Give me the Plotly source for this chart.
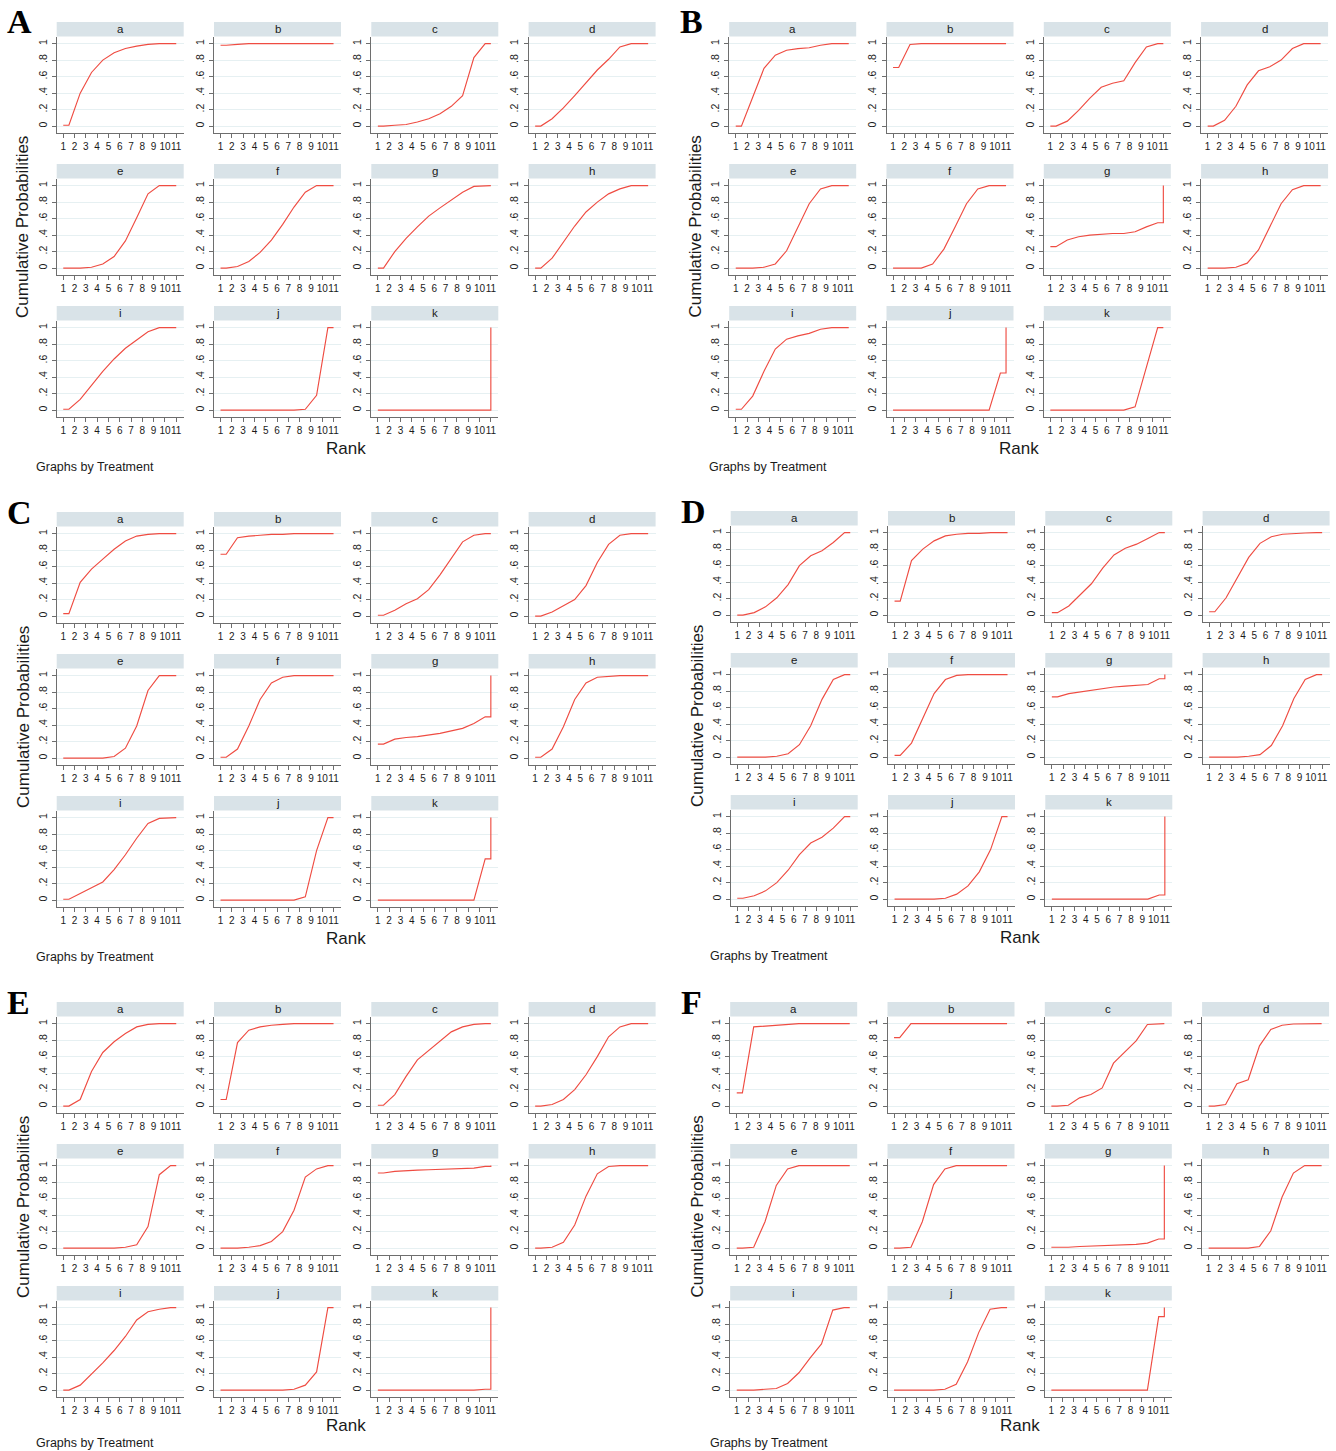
import plotly.graph_objects as go

# ---------------- data ----------------
RANKS = list(range(1, 12))
TREATMENTS = ["a", "b", "c", "d", "e", "f", "g", "h", "i", "j", "k"]
PANEL_LETTERS = ["A", "B", "C", "D", "E", "F"]
Y_TICKS = [0, 0.2, 0.4, 0.6, 0.8, 1]
Y_TICK_TEXT = ["0", ".2", ".4", ".6", ".8", "1"]

# cumulative probability of rank <= r (r = 1..11), one row per treatment a..k
cum_A = [
    [0.01, 0.40, 0.65, 0.80, 0.89, 0.94, 0.97, 0.99, 1.0, 1.0, 1.0],
    [0.98, 0.99, 1.0, 1.0, 1.0, 1.0, 1.0, 1.0, 1.0, 1.0, 1.0],
    [0.0, 0.01, 0.02, 0.05, 0.09, 0.15, 0.24, 0.37, 0.83, 1.0, 1.0],
    [0.0, 0.09, 0.22, 0.37, 0.53, 0.68, 0.81, 0.96, 1.0, 1.0, 1.0],
    [0.0, 0.0, 0.01, 0.05, 0.14, 0.33, 0.61, 0.90, 1.0, 1.0, 1.0],
    [0.0, 0.02, 0.08, 0.19, 0.34, 0.53, 0.74, 0.92, 1.0, 1.0, 1.0],
    [0.0, 0.20, 0.36, 0.50, 0.63, 0.73, 0.82, 0.92, 0.99, 1.0, 1.0],
    [0.0, 0.12, 0.32, 0.51, 0.68, 0.80, 0.90, 0.96, 1.0, 1.0, 1.0],
    [0.01, 0.13, 0.30, 0.47, 0.62, 0.75, 0.85, 0.95, 1.0, 1.0, 1.0],
    [0.0, 0.0, 0.0, 0.0, 0.0, 0.0, 0.0, 0.01, 0.18, 1.0, 1.0],
    [0.0, 0.0, 0.0, 0.0, 0.0, 0.0, 0.0, 0.0, 0.0, 0.0, 1.0],
]
cum_B = [
    [0.0, 0.35, 0.70, 0.86, 0.92, 0.94, 0.95, 0.98, 1.0, 1.0, 1.0],
    [0.71, 0.99, 1.0, 1.0, 1.0, 1.0, 1.0, 1.0, 1.0, 1.0, 1.0],
    [0.0, 0.06, 0.19, 0.34, 0.47, 0.52, 0.55, 0.77, 0.96, 1.0, 1.0],
    [0.0, 0.07, 0.24, 0.50, 0.67, 0.72, 0.80, 0.94, 1.0, 1.0, 1.0],
    [0.0, 0.0, 0.01, 0.05, 0.21, 0.49, 0.78, 0.96, 1.0, 1.0, 1.0],
    [0.0, 0.0, 0.0, 0.05, 0.23, 0.50, 0.78, 0.96, 1.0, 1.0, 1.0],
    [0.26, 0.34, 0.38, 0.40, 0.41, 0.42, 0.42, 0.44, 0.50, 0.55, 1.0],
    [0.0, 0.0, 0.01, 0.06, 0.22, 0.50, 0.78, 0.95, 1.0, 1.0, 1.0],
    [0.01, 0.17, 0.47, 0.74, 0.86, 0.90, 0.93, 0.98, 1.0, 1.0, 1.0],
    [0.0, 0.0, 0.0, 0.0, 0.0, 0.0, 0.0, 0.0, 0.0, 0.45, 1.0],
    [0.0, 0.0, 0.0, 0.0, 0.0, 0.0, 0.0, 0.04, 0.52, 1.0, 1.0],
]
cum_C = [
    [0.03, 0.41, 0.57, 0.69, 0.81, 0.91, 0.97, 0.99, 1.0, 1.0, 1.0],
    [0.75, 0.95, 0.97, 0.98, 0.99, 0.99, 1.0, 1.0, 1.0, 1.0, 1.0],
    [0.01, 0.07, 0.15, 0.21, 0.32, 0.50, 0.70, 0.90, 0.98, 1.0, 1.0],
    [0.0, 0.05, 0.12, 0.20, 0.37, 0.65, 0.87, 0.98, 1.0, 1.0, 1.0],
    [0.0, 0.0, 0.0, 0.0, 0.02, 0.12, 0.39, 0.82, 1.0, 1.0, 1.0],
    [0.01, 0.11, 0.39, 0.71, 0.91, 0.98, 1.0, 1.0, 1.0, 1.0, 1.0],
    [0.17, 0.23, 0.25, 0.26, 0.28, 0.30, 0.33, 0.36, 0.42, 0.50, 1.0],
    [0.01, 0.11, 0.38, 0.71, 0.91, 0.98, 0.99, 1.0, 1.0, 1.0, 1.0],
    [0.01, 0.08, 0.15, 0.22, 0.37, 0.55, 0.75, 0.93, 0.99, 1.0, 1.0],
    [0.0, 0.0, 0.0, 0.0, 0.0, 0.0, 0.0, 0.04, 0.60, 1.0, 1.0],
    [0.0, 0.0, 0.0, 0.0, 0.0, 0.0, 0.0, 0.0, 0.0, 0.50, 1.0],
]
cum_D = [
    [0.0, 0.03, 0.10, 0.21, 0.37, 0.60, 0.72, 0.78, 0.88, 1.0, 1.0],
    [0.17, 0.66, 0.80, 0.90, 0.96, 0.98, 0.99, 0.99, 1.0, 1.0, 1.0],
    [0.03, 0.11, 0.24, 0.38, 0.57, 0.73, 0.81, 0.86, 0.93, 1.0, 1.0],
    [0.04, 0.21, 0.46, 0.70, 0.87, 0.95, 0.98, 0.99, 0.995, 1.0, 1.0],
    [0.0, 0.0, 0.0, 0.01, 0.04, 0.15, 0.38, 0.70, 0.94, 1.0, 1.0],
    [0.02, 0.17, 0.48, 0.77, 0.94, 0.99, 1.0, 1.0, 1.0, 1.0, 1.0],
    [0.73, 0.77, 0.79, 0.81, 0.83, 0.85, 0.86, 0.87, 0.88, 0.95, 1.0],
    [0.0, 0.0, 0.0, 0.01, 0.03, 0.14, 0.38, 0.71, 0.94, 1.0, 1.0],
    [0.01, 0.04, 0.10, 0.20, 0.35, 0.54, 0.68, 0.75, 0.86, 1.0, 1.0],
    [0.0, 0.0, 0.0, 0.0, 0.01, 0.06, 0.16, 0.33, 0.60, 1.0, 1.0],
    [0.0, 0.0, 0.0, 0.0, 0.0, 0.0, 0.0, 0.0, 0.0, 0.05, 1.0],
]
cum_E = [
    [0.0, 0.08, 0.42, 0.65, 0.78, 0.88, 0.96, 0.99, 1.0, 1.0, 1.0],
    [0.08, 0.77, 0.92, 0.96, 0.98, 0.99, 1.0, 1.0, 1.0, 1.0, 1.0],
    [0.01, 0.14, 0.36, 0.56, 0.67, 0.79, 0.90, 0.96, 0.99, 1.0, 1.0],
    [0.0, 0.02, 0.08, 0.20, 0.38, 0.60, 0.84, 0.96, 1.0, 1.0, 1.0],
    [0.0, 0.0, 0.0, 0.0, 0.0, 0.01, 0.04, 0.26, 0.89, 1.0, 1.0],
    [0.0, 0.0, 0.01, 0.03, 0.08, 0.20, 0.46, 0.86, 0.96, 1.0, 1.0],
    [0.91, 0.93, 0.94, 0.945, 0.95, 0.955, 0.96, 0.965, 0.97, 0.99, 1.0],
    [0.0, 0.01, 0.07, 0.28, 0.63, 0.90, 0.99, 1.0, 1.0, 1.0, 1.0],
    [0.0, 0.06, 0.19, 0.33, 0.48, 0.65, 0.85, 0.95, 0.98, 1.0, 1.0],
    [0.0, 0.0, 0.0, 0.0, 0.0, 0.0, 0.01, 0.06, 0.22, 1.0, 1.0],
    [0.0, 0.0, 0.0, 0.0, 0.0, 0.0, 0.0, 0.0, 0.0, 0.01, 1.0],
]
cum_F = [
    [0.16, 0.96, 0.97, 0.98, 0.99, 1.0, 1.0, 1.0, 1.0, 1.0, 1.0],
    [0.83, 1.0, 1.0, 1.0, 1.0, 1.0, 1.0, 1.0, 1.0, 1.0, 1.0],
    [0.0, 0.01, 0.10, 0.14, 0.22, 0.52, 0.66, 0.79, 0.99, 1.0, 1.0],
    [0.0, 0.02, 0.27, 0.32, 0.73, 0.93, 0.98, 0.995, 1.0, 1.0, 1.0],
    [0.0, 0.01, 0.32, 0.76, 0.96, 1.0, 1.0, 1.0, 1.0, 1.0, 1.0],
    [0.0, 0.01, 0.32, 0.77, 0.96, 1.0, 1.0, 1.0, 1.0, 1.0, 1.0],
    [0.01, 0.01, 0.02, 0.025, 0.03, 0.035, 0.04, 0.045, 0.06, 0.11, 1.0],
    [0.0, 0.0, 0.0, 0.0, 0.02, 0.21, 0.62, 0.91, 1.0, 1.0, 1.0],
    [0.0, 0.0, 0.01, 0.02, 0.08, 0.21, 0.39, 0.56, 0.97, 1.0, 1.0],
    [0.0, 0.0, 0.0, 0.0, 0.01, 0.07, 0.34, 0.70, 0.98, 1.0, 1.0],
    [0.0, 0.0, 0.0, 0.0, 0.0, 0.0, 0.0, 0.0, 0.0, 0.89, 1.0],
]
PANEL_DATA = [cum_A, cum_B, cum_C, cum_D, cum_E, cum_F]

# ---------------- layout geometry (pixels) ----------------
W, H = 1336, 1451
PANEL_ORIGINS = [(0, 0), (672.5, 0), (0, 490), (674, 489), (0, 980), (673.5, 980)]
FOOTER_SHIFT = [0, 0, 0, 0, -3, -3]
AX_LEFT, COL_STEP, PLOT_W = 56.7, 157.3, 127
HDR_TOP, HDR_H, PLOT_BOTTOM, ROW_STEP = 22, 14.6, 132.7, 142

LINE_COLOR = "#EF4C42"
STRIP_COLOR = "#D9E3E8"
GRID_COLOR = "#E6F0F2"
AXIS_COLOR = "#6E6E6E"
SANS = "Liberation Sans, Arial, sans-serif"


def stata_path(p):
    xs, ys = [RANKS[0]], [p[0]]
    for r, v in zip(RANKS[:-1], p[:-1]):
        xs.append(r + 0.5)
        ys.append(v)
    xs += [RANKS[-1], RANKS[-1]]
    ys += [p[-2], p[-1]]
    return xs, ys


def px(x):
    return x / W


def py(y):
    return 1 - y / H


fig = go.Figure()
layout = {}
shapes = []
annotations = []
n = 0
for pi, (ox, oy) in enumerate(PANEL_ORIGINS):
    data = PANEL_DATA[pi]
    for ti, tname in enumerate(TREATMENTS):
        n += 1
        row, col = divmod(ti, 4)
        x0 = ox + AX_LEFT + col * COL_STEP
        x1 = x0 + PLOT_W
        htop = oy + HDR_TOP + row * ROW_STEP
        hbot = htop + HDR_H
        pbot = oy + PLOT_BOTTOM + row * ROW_STEP
        xs, ys = stata_path(data[ti])
        sx = "x" if n == 1 else f"x{n}"
        sy = "y" if n == 1 else f"y{n}"
        fig.add_trace(go.Scatter(x=xs, y=ys, mode="lines", xaxis=sx, yaxis=sy,
                                 line=dict(color=LINE_COLOR, width=1.15),
                                 showlegend=False, hoverinfo="skip"))
        kx = "xaxis" if n == 1 else f"xaxis{n}"
        ky = "yaxis" if n == 1 else f"yaxis{n}"
        layout[kx] = dict(domain=[px(x0), px(x1)], anchor=sy, range=[0.42, 11.66],
                          tickmode="array", tickvals=RANKS, ticktext=[str(r) for r in RANKS],
                          tickangle=0,
                          ticks="outside", ticklen=4, tickwidth=1, tickcolor=AXIS_COLOR,
                          showline=True, linecolor=AXIS_COLOR, linewidth=1,
                          showgrid=False, zeroline=False, fixedrange=True,
                          tickfont=dict(family=SANS, size=10, color="#1a1a1a"))
        layout[ky] = dict(domain=[py(pbot), py(hbot)], anchor=sx, range=[-0.08, 1.085],
                          tickmode="array", tickvals=Y_TICKS, ticktext=Y_TICK_TEXT,
                          tickangle=-90, ticks="outside", ticklen=4, tickwidth=1,
                          tickcolor=AXIS_COLOR, ticklabelstandoff=1,
                          showline=True, linecolor=AXIS_COLOR, linewidth=1,
                          showgrid=True, gridcolor=GRID_COLOR, gridwidth=1,
                          zeroline=False, fixedrange=True,
                          tickfont=dict(family=SANS, size=10.5, color="#1a1a1a"))
        shapes.append(dict(type="rect", xref="paper", yref="paper",
                           x0=px(x0), x1=px(x1), y0=py(hbot), y1=py(htop),
                           fillcolor=STRIP_COLOR, line=dict(width=0), layer="below"))
        annotations.append(dict(text=tname, xref="paper", yref="paper",
                                x=px((x0 + x1) / 2), y=py((htop + hbot) / 2),
                                xanchor="center", yanchor="middle", showarrow=False,
                                font=dict(family=SANS, size=11.5, color="#1a1a1a")))
    # panel letter
    annotations.append(dict(text=f"<b>{PANEL_LETTERS[pi]}</b>", xref="paper", yref="paper",
                            x=px(ox + 5), y=py(oy + 22), xanchor="left", yanchor="middle",
                            showarrow=False,
                            font=dict(family="Liberation Serif, Times New Roman, serif",
                                      size=34, color="black")))
    annotations.append(dict(text="Cumulative Probabilities", xref="paper", yref="paper",
                            x=px(ox + 23), y=py(oy + 227), xanchor="center", yanchor="middle",
                            textangle=-90, showarrow=False,
                            font=dict(family=SANS, size=17, color="#1a1a1a")))
    annotations.append(dict(text="Rank", xref="paper", yref="paper",
                            x=px(ox + 346), y=py(oy + 448 + FOOTER_SHIFT[pi]),
                            xanchor="center", yanchor="middle", showarrow=False,
                            font=dict(family=SANS, size=17, color="#1a1a1a")))
    annotations.append(dict(text="Graphs by Treatment", xref="paper", yref="paper",
                            x=px(ox + 34), y=py(oy + 467 + FOOTER_SHIFT[pi] * 1.5),
                            xanchor="left", yanchor="middle", showarrow=False,
                            font=dict(family=SANS, size=12.5, color="#1a1a1a")))

fig.update_layout(width=W, height=H, autosize=False,
                  margin=dict(l=0, r=0, t=0, b=0),
                  paper_bgcolor="white", plot_bgcolor="white",
                  shapes=shapes, annotations=annotations, **layout)

fig.write_html("out.html", config={"displayModeBar": False},
               post_script="document.body.style.margin='0px';document.body.style.padding='0px';")
